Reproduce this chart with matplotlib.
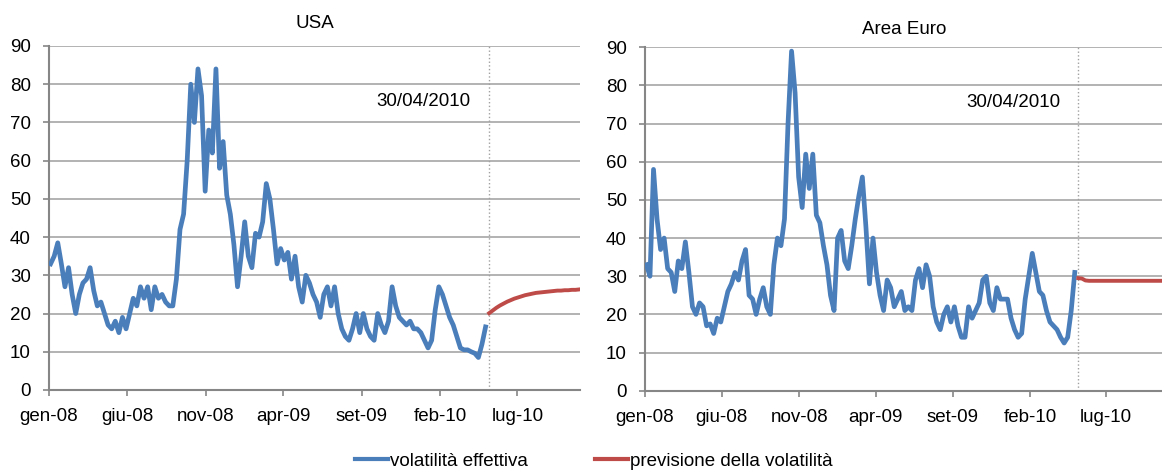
import pandas as pd
import matplotlib.pyplot as plt
from matplotlib import font_manager

# pick a condensed face if one is installed, else plain Liberation Sans
names = {f.name for f in font_manager.fontManager.ttflist}
stretches = {(f.name, f.stretch) for f in font_manager.fontManager.ttflist}
print(sorted(n for n in names))
print(sorted(s for s in stretches if s[1] != 'normal'))
if 'Liberation Sans Narrow' in names:
    plt.rcParams['font.family'] = ['Liberation Sans Narrow', 'DejaVu Sans']
else:
    plt.rcParams['font.family'] = ['Liberation Sans', 'DejaVu Sans']

# weekly observations, 4 Jan 2008 .. 30 Apr 2010
dates = pd.date_range('2008-01-04', '2010-04-30', freq='7D')
usa = [33, 35, 38.5, 33, 27, 32, 25, 20, 25, 28,
       29, 32, 26, 22, 23, 20, 17, 16, 18, 15,
       19, 16, 20, 24, 22, 27, 24, 27, 21, 27,
       24, 25, 23, 22, 22, 29, 42, 46, 60, 80,
       70, 84, 77, 52, 68, 62, 84, 58, 65, 51,
       46, 38, 27, 35, 44, 35, 32, 41, 40, 44,
       54, 50, 42, 33, 37, 34, 36, 29, 35, 27,
       23, 30, 28, 25, 23, 19, 25, 27, 22, 27,
       20, 16, 14, 13, 16, 20, 15, 20, 16, 14,
       13, 20, 17, 15, 18, 27, 22, 19, 18, 17,
       18, 16, 16, 15, 13, 11, 13, 21, 27, 25,
       22, 19, 17, 14, 11, 10.5, 10.5, 10, 9.6, 8.5,
       12, 16.5]
euro = [33, 30, 58, 45, 37, 40, 32, 31, 26, 34,
        32, 39, 31, 22, 20, 23, 22, 17, 17.5, 15,
        19, 18, 22, 26, 28, 31, 29, 34, 37, 25,
        24, 20, 24, 27, 22, 20, 33, 40, 38, 45,
        70, 89, 78, 56, 48, 62, 53, 62, 46, 44,
        38, 33, 25, 21, 40, 42, 34, 32, 38, 45,
        51, 56, 43, 28, 40, 31, 25, 21, 29, 27,
        22, 24, 26, 21, 22, 21, 29, 32, 27, 33,
        30, 22, 18, 16, 20, 22, 18, 22, 17, 14,
        14, 22, 19, 21, 23, 29, 30, 23, 21, 27,
        24, 24, 24, 19, 16, 14, 15, 24, 30, 36,
        31, 26, 25, 21, 18, 17, 16, 14, 12.5, 14,
        21, 31]

# forecast, weekly from 7 May 2010
fc_dates = pd.date_range('2010-05-07', periods=26, freq='7D')
usa_fc = [20.1, 20.8, 21.5, 22.1, 22.6, 23.1, 23.5, 23.9, 24.2, 24.5,
          24.8, 25.0, 25.2, 25.4, 25.5, 25.6, 25.7, 25.8, 25.9, 26.0,
          26.0, 26.1, 26.1, 26.2, 26.2, 26.3]
euro_fc = [29.5, 29.4, 28.9] + [28.8] * 23

tick_dates = pd.to_datetime(['2008-01-01', '2008-06-01', '2008-11-01', '2009-04-01',
                             '2009-09-01', '2010-02-01', '2010-07-01'])
tick_labels = ['gen-08', 'giu-08', 'nov-08', 'apr-09', 'set-09', 'feb-10', 'lug-10']
titles = ['USA', 'Area Euro']
date_note = '30/04/2010'

blue = '#4A7EBB'
red = '#BE4B48'
grey = '#868686'

fig = plt.figure(figsize=(11.62, 4.73), dpi=100)
ax1 = fig.add_axes([0.0422, 0.1755, 0.457, 0.7273])
ax2 = fig.add_axes([0.555, 0.174, 0.450, 0.7260])

for ax, act, fc, title, tx in [(ax1, usa, usa_fc, titles[0], 314.5),
                               (ax2, euro, euro_fc, titles[1], 904)]:
    ax.plot(dates, act, color=blue, lw=3.4, solid_joinstyle='round', zorder=3)
    ax.plot(fc_dates, fc, color=red, lw=2.8, zorder=3)
    ax.axvline(fc_dates[0], color='#A0A0A0', ls=':', lw=1, zorder=2)
    ax.set_xlim(pd.Timestamp('2008-01-01'), pd.Timestamp('2010-10-31'))
    ax.set_ylim(0, 90)
    ax.set_yticks(range(0, 91, 10))
    ax.set_xticks(tick_dates)
    ax.set_xticklabels(tick_labels)
    ax.grid(axis='y', color='#A6A6A6', lw=1.2)
    ax.set_axisbelow(True)
    for s in ['top', 'right']:
        ax.spines[s].set_visible(False)
    for s in ['left', 'bottom']:
        ax.spines[s].set_color(grey)
        ax.spines[s].set_linewidth(1.5)
    ax.tick_params(axis='y', length=4, color=grey, width=1.2, pad=9, labelsize=13.5)
    ax.tick_params(axis='x', length=4, color=grey, width=1.2, pad=9, labelsize=13.5)
    ax.text(pd.Timestamp('2009-12-30'), 75.5, date_note, fontsize=13.5,
            ha='center', va='center')
    fig.text(tx / 1162, 0, title, fontsize=13.5, ha='center', va='center')

fig.texts[0].set_y(1 - 24 / 473)
fig.texts[1].set_y(1 - 29.6 / 473)

h1, = ax1.plot([], [], color=blue, lw=3)
h2, = ax1.plot([], [], color=red, lw=3)
fig.legend([h1, h2], ['volatilità effettiva', 'previsione della volatilità'],
           loc='center', bbox_to_anchor=(0.511, 1 - 461 / 473), ncol=2,
           frameon=False, fontsize=13.5, handlelength=1.75, handletextpad=0.1,
           columnspacing=3.6)

fig.savefig('out.png', dpi=100)
